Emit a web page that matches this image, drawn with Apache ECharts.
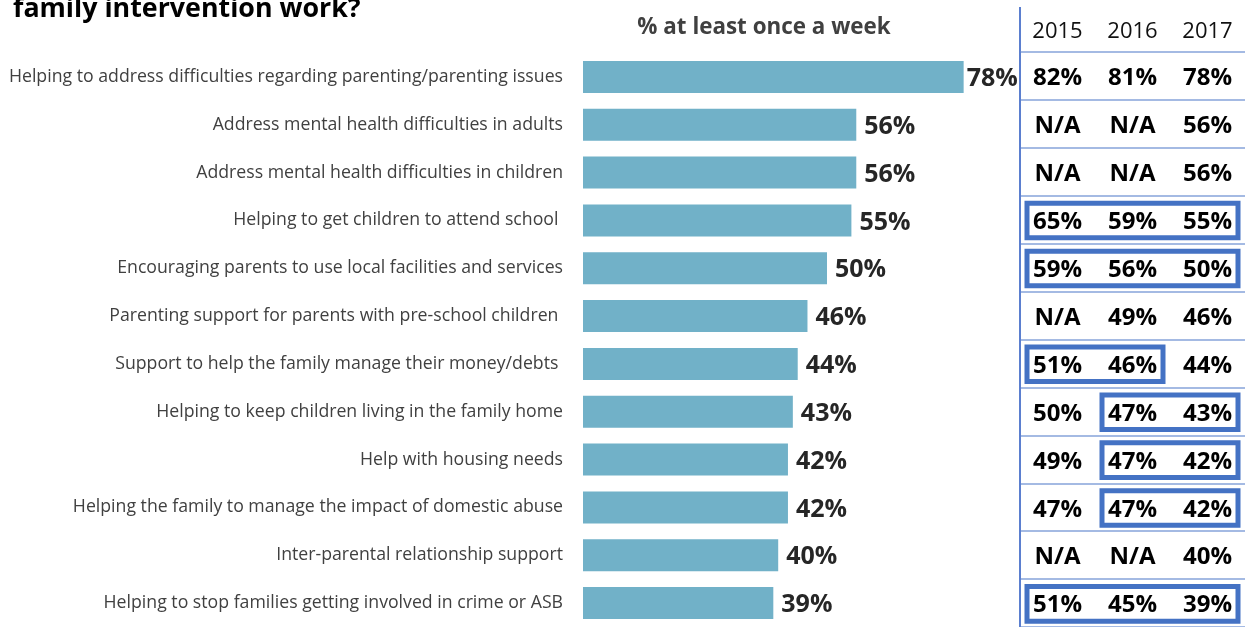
<!DOCTYPE html>
<html>
<head>
<meta charset="utf-8">
<script src="https://cdn.jsdelivr.net/npm/echarts@6/dist/echarts.min.js"></script>
<style>
  html, body { margin: 0; padding: 0; background: #ffffff; }
  #chart { width: 1245px; height: 627px; }
</style>
</head>
<body>
<div id="chart"></div>
<script>
// Activities, top to bottom
const categories = [
  'Helping to address difficulties regarding parenting/parenting issues',
  'Address mental health difficulties in adults',
  'Address mental health difficulties in children',
  'Helping to get children to attend school ',
  'Encouraging parents to use local facilities and services',
  'Parenting support for parents with pre-school children ',
  'Support to help the family manage their money/debts ',
  'Helping to keep children living in the family home',
  'Help with housing needs',
  'Helping the family to manage the impact of domestic abuse',
  'Inter-parental relationship support',
  'Helping to stop families getting involved in crime or ASB'
];

// % at least once a week, 2017 (bar values)
const weekly2017 = [78, 56, 56, 55, 50, 46, 44, 43, 42, 42, 40, 39];

// Year-on-year comparison table (null = N/A)
const years = ['2015', '2016', '2017'];
const values2015 = [82, null, null, 65, 59, null, 51, 50, 49, 47, null, 51];
const values2016 = [81, null, null, 59, 56, 49, 46, 47, 47, 47, null, 45];
const values2017 = weekly2017;

// Highlighted runs in the table: [first year index, row index, last year index]
const highlights = [
  [0, 3, 2],
  [0, 4, 2],
  [0, 6, 1],
  [1, 7, 2],
  [1, 8, 2],
  [1, 9, 2],
  [0, 11, 2]
];

const yearColumns = [values2015, values2016, values2017];
const tableCells = [];
yearColumns.forEach((col, ci) => {
  col.forEach((v, ri) => {
    tableCells.push([ci, ri, v == null ? 'N/A' : v + '%']);
  });
});

const FONT = '"Open Sans", "Noto Sans", sans-serif';
const chart = echarts.init(document.getElementById('chart'), null, { renderer: 'canvas' });

// the top bar sits right against the table, so its label hugs the bar
const barData = weekly2017.map((v, i) =>
  i === 0 ? { value: v, label: { distance: 3 } } : v
);

chart.setOption({
  animation: false,
  backgroundColor: '#ffffff',
  textStyle: { fontFamily: FONT },
  grid: [
    { left: 583, top: 53, width: 488, height: 577 },
    { left: 1020, top: 52, width: 230, height: 580 }
  ],
  xAxis: [
    {
      gridIndex: 0, type: 'value', min: 0, max: 100,
      show: false
    },
    {
      gridIndex: 1, type: 'category', data: years, position: 'top',
      axisLine: { show: false }, axisTick: { show: false },
      axisLabel: { fontSize: 22, color: '#111111', fontFamily: FONT, margin: 9 },
      splitLine: { show: false }
    }
  ],
  yAxis: [
    {
      gridIndex: 0, type: 'category', data: categories, inverse: true,
      axisLine: { show: false }, axisTick: { show: false },
      axisLabel: { fontSize: 17.7, color: '#404040', fontFamily: FONT, margin: 20 }
    },
    {
      gridIndex: 1, type: 'category', data: categories, inverse: true,
      axisLine: { show: true, lineStyle: { color: '#5B7FCF', width: 2 } },
      axisTick: { show: false },
      axisLabel: { show: false },
      splitLine: { show: true, lineStyle: { color: '#86A3DA', width: 1.5 } }
    }
  ],
  graphic: [
    {
      type: 'text', left: 13, top: -4,
      style: { text: 'family intervention work?', fontSize: 26.8, fontWeight: 'bold',
               fontFamily: FONT, fill: '#000000' }
    },
    {
      type: 'text', x: 764, y: 28,
      style: { text: '% at least once a week', fontSize: 22.4, fontWeight: 'bold',
               fontFamily: FONT, fill: '#404040', align: 'center', verticalAlign: 'middle' }
    },
    {
      // left border of the header cell
      type: 'line',
      shape: { x1: 1020, y1: 7, x2: 1020, y2: 53 },
      style: { stroke: '#5B7FCF', lineWidth: 2 }
    }
  ],
  series: [
    {
      type: 'bar', xAxisIndex: 0, yAxisIndex: 0,
      data: barData,
      barWidth: 32,
      itemStyle: { color: '#71B1C8' },
      label: {
        show: true, position: 'right', distance: 8,
        formatter: '{c}%', fontSize: 25, fontWeight: 'bold',
        fontFamily: FONT, color: '#262626', offset: [0, 2]
      }
    },
    {
      // highlight frames around runs of cells
      type: 'custom', xAxisIndex: 1, yAxisIndex: 1,
      data: highlights,
      encode: { x: 0, y: 1 },
      z: 3,
      renderItem: function (params, api) {
        const a = api.coord([api.value(0), api.value(1)]);
        const b = api.coord([api.value(2), api.value(1)]);
        const size = api.size([1, 1]);
        const lw = 5;
        const left = a[0] - size[0] / 2 + 4.5;
        const right = b[0] + size[0] / 2 - 4.5;
        const top = a[1] - size[1] / 2 + 5;
        const bottom = a[1] + size[1] / 2 - 3.3;
        return {
          type: 'rect',
          shape: { x: left + lw / 2, y: top + lw / 2, width: right - left - lw, height: bottom - top - lw },
          style: { fill: 'none', stroke: '#4472C4', lineWidth: lw }
        };
      }
    },
    {
      // table values
      type: 'custom', xAxisIndex: 1, yAxisIndex: 1,
      data: tableCells.map(c => [c[0], c[1]]),
      encode: { x: 0, y: 1 },
      z: 4,
      renderItem: function (params, api) {
        const p = api.coord([api.value(0), api.value(1)]);
        return {
          type: 'text',
          x: p[0], y: p[1] + 2.5,
          style: {
            text: tableCells[params.dataIndex][2],
            fontSize: 24, fontWeight: 'bold', fontFamily: FONT,
            fill: '#000000', align: 'center', verticalAlign: 'middle'
          }
        };
      }
    }
  ]
});
</script>
</body>
</html>
